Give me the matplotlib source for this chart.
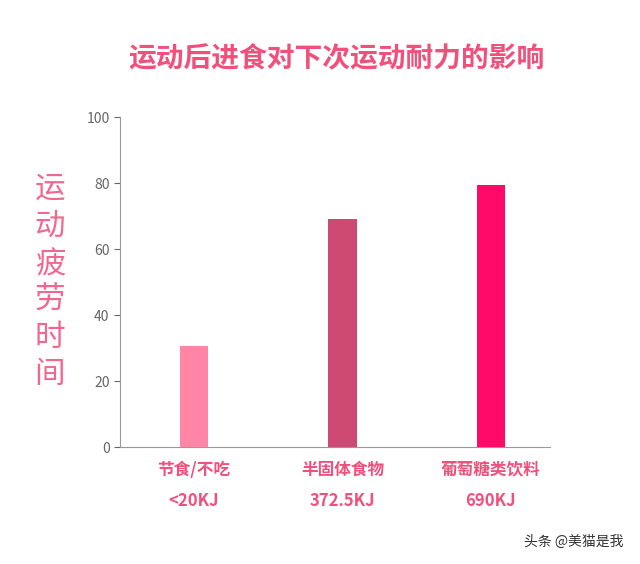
import matplotlib.pyplot as plt

categories = ["节食/不吃\n<20KJ", "半固体食物\n372.5KJ", "葡萄糖类饮料\n690KJ"]
values = [30.5, 69, 79.5]
colors = ["#FF85A6", "#CF4A73", "#FF0A66"]
yticks = [0, 20, 40, 60, 80, 100]

plt.rcParams["font.family"] = "Noto Sans CJK SC"
pink = "#F0507C"

fig = plt.figure(figsize=(6.4, 5.64), dpi=100)
ax = fig.add_axes([0.1875, 0.2074, 0.672, 0.585])
x = range(len(values))
ax.bar(x, values, width=0.19, color=colors)
ax.set_xlim(-0.5, 2.4)
ax.set_ylim(0, 100)
ax.set_yticks(yticks)
ax.tick_params(axis="y", colors="#666666", labelsize=10, length=4)
ax.tick_params(axis="x", length=0, pad=10)
ax.set_xticks(list(x))
ax.set_xticklabels(categories, color=pink, fontsize=12, fontweight="bold", linespacing=1.9)
for s in ["top", "right"]:
    ax.spines[s].set_visible(False)
ax.spines["left"].set_color("#999999")
ax.spines["bottom"].set_color("#999999")

fig.text(0.526, 0.895, "运动后进食对下次运动耐力的影响", ha="center", va="center",
         color=pink, fontsize=20, fontweight="bold")
fig.text(0.078, 0.5, "运\n动\n疲\n劳\n时\n间", ha="center", va="center",
         color="#F2678F", fontsize=22, linespacing=1.25)
fig.text(0.975, 0.04, "头条 @美猫是我", ha="right", va="center", color="#333333", fontsize=10)

fig.savefig("out.png", dpi=100)
